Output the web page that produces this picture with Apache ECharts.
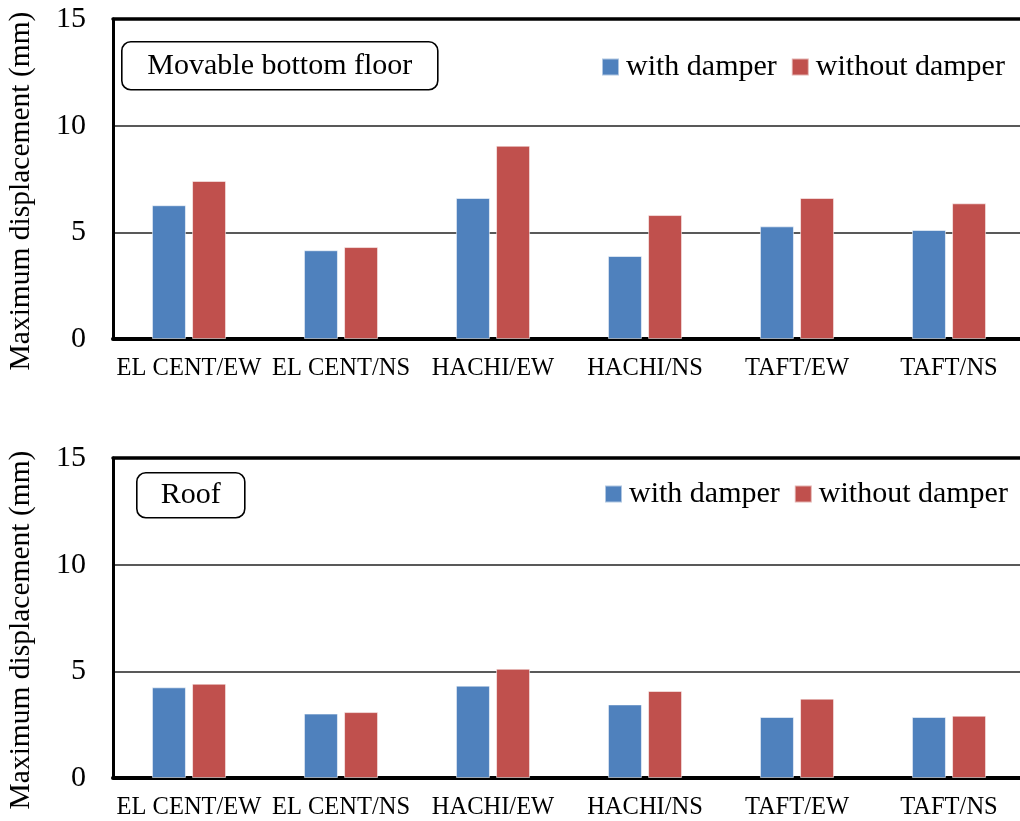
<!DOCTYPE html>
<html>
<head>
<meta charset="utf-8">
<script src="https://cdn.jsdelivr.net/npm/echarts@6/dist/echarts.min.js"></script>
<style>html,body{margin:0;padding:0;background:#fff}#c{width:1020px;height:821px}</style>
</head>
<body>
<div id="c"></div>
<script>
var categories = ['EL CENT/EW', 'EL CENT/NS', 'HACHI/EW', 'HACHI/NS', 'TAFT/EW', 'TAFT/NS'];
var yTicks = [0, 5, 10, 15];
var seriesNames = ['with damper', 'without damper'];
var floorWith = [6.27, 4.16, 6.61, 3.89, 5.28, 5.11];
var floorWithout = [7.41, 4.31, 9.06, 5.81, 6.61, 6.36];
var roofWith = [4.25, 3.02, 4.33, 3.45, 2.86, 2.86];
var roofWithout = [4.42, 3.09, 5.12, 4.08, 3.72, 2.92];
var panelTitles = ['Movable bottom floor', 'Roof'];

var FONT = 'Liberation Serif';
var BLUE = '#4F81BD', RED = '#C0504D';

function xAxisBottom(gi) {
  return {
    type: 'category', gridIndex: gi, data: categories, position: 'bottom',
    axisLine: { show: true, onZero: false, lineStyle: { color: '#000', width: 4 } },
    axisTick: { show: false },
    axisLabel: { interval: 0, margin: 17, color: '#000', fontFamily: FONT, fontSize: 24.5 }
  };
}
function xAxisTop(gi) {
  return {
    type: 'category', gridIndex: gi, data: categories, position: 'top',
    axisLine: { show: true, onZero: false, lineStyle: { color: '#000', width: 3.5 } },
    axisTick: { show: false }, axisLabel: { show: false }, splitLine: { show: false }
  };
}
function yAxis(gi) {
  return {
    type: 'value', gridIndex: gi, min: yTicks[0], max: yTicks[yTicks.length - 1], interval: 5,
    name: 'Maximum displacement (mm)', nameLocation: 'middle', nameGap: 77,
    nameTextStyle: { color: '#000', fontFamily: FONT, fontSize: 29.5, padding: [0, 24, 0, 0] },
    axisLine: { show: true, lineStyle: { color: '#000', width: 3 } },
    axisTick: { show: false },
    axisLabel: { margin: 27, color: '#000', fontFamily: FONT, fontSize: 30 },
    splitLine: { show: true, lineStyle: { color: '#222', width: 1.5 } }
  };
}
function bar(name, data, color, gi) {
  return {
    name: name, type: 'bar', xAxisIndex: gi * 2, yAxisIndex: gi, data: data,
    barWidth: 34, barGap: '18%',
    itemStyle: { color: color, borderColor: 'rgba(255,255,255,0.55)', borderWidth: 1 },
    emphasis: { disabled: true }
  };
}
function legend(left, top) {
  return {
    data: seriesNames, left: left, top: top, padding: 0, itemWidth: 17, itemHeight: 17,
    itemGap: 14, icon: 'rect', selectedMode: false,
    textStyle: { color: '#000', fontFamily: FONT, fontSize: 30, padding: [0, 0, 0, 2] }
  };
}
function box(x, y, w, h, text) {
  return {
    type: 'group', left: x, top: y,
    children: [
      { type: 'rect', shape: { x: 0, y: 0, width: w, height: h, r: 9 },
        style: { fill: '#fff', stroke: '#000', lineWidth: 1.6 } },
      { type: 'text', x: w / 2, y: h / 2,
        style: { text: text, fill: '#000', font: '30px "' + FONT + '"', align: 'center', verticalAlign: 'middle' } }
    ]
  };
}

var chart = echarts.init(document.getElementById('c'), null, { renderer: 'canvas' });
chart.setOption({
  animation: false,
  backgroundColor: '#fff',
  grid: [
    { left: 113, width: 912, top: 19, height: 320, outerBoundsMode: 'none', containLabel: false },
    { left: 113, width: 912, top: 458, height: 320, outerBoundsMode: 'none', containLabel: false }
  ],
  xAxis: [xAxisBottom(0), xAxisTop(0), xAxisBottom(1), xAxisTop(1)],
  yAxis: [yAxis(0), yAxis(1)],
  legend: [legend(601, 52), legend(604, 479)],
  series: [
    bar(seriesNames[0], floorWith, BLUE, 0),
    bar(seriesNames[1], floorWithout, RED, 0),
    bar(seriesNames[0], roofWith, BLUE, 1),
    bar(seriesNames[1], roofWithout, RED, 1)
  ],
  graphic: [
    box(121, 41, 316, 48, panelTitles[0]),
    box(136, 472, 108, 45, panelTitles[1])
  ]
});
</script>
</body>
</html>
